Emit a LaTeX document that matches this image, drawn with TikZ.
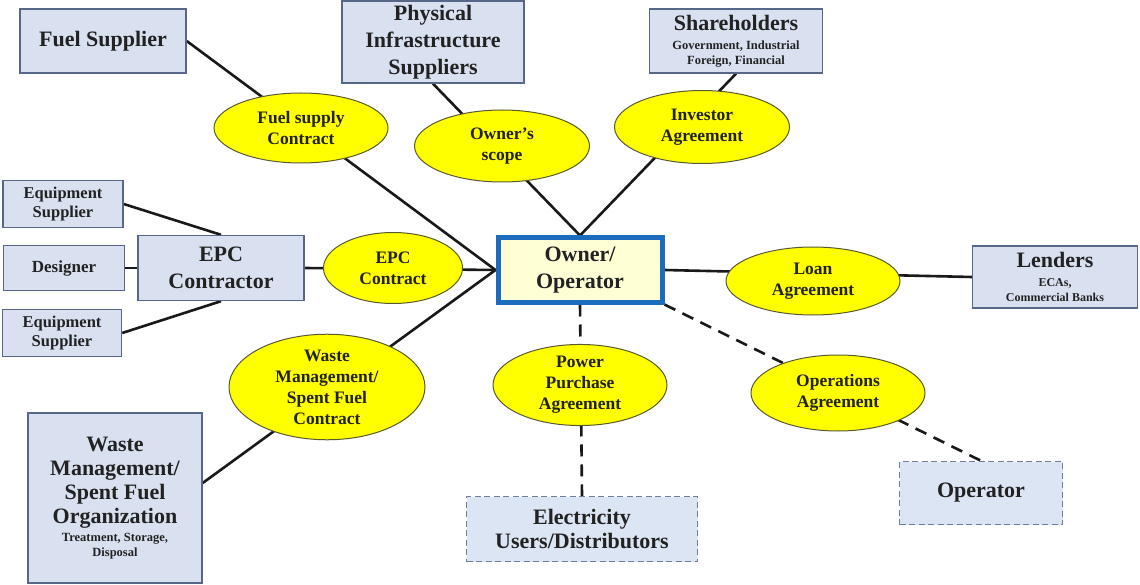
\documentclass[tikz,border=0pt]{standalone}
\usepackage{fontspec}
\setmainfont{Liberation Serif}
\usetikzlibrary{shapes.geometric,backgrounds}
\newcommand\myfs[2]{\fontsize{#1}{#2}\selectfont}
\definecolor{boxfill}{HTML}{D9E1F1}
\definecolor{boxline}{HTML}{56678A}
\definecolor{ellfill}{HTML}{FFFF00}
\definecolor{ellline}{HTML}{5A5A30}
\definecolor{ownfill}{HTML}{FFFFD6}
\definecolor{ownline}{HTML}{1B6CBC}
\definecolor{dashfill}{HTML}{DCE5F3}
\definecolor{txt}{HTML}{222222}
\tikzset{
  pbox/.style={draw=boxline, line width=1.4pt, fill=boxfill, align=center, inner sep=0pt, text=txt, font=\bfseries\myfs{22}{27}},
  sbox/.style={pbox, font=\bfseries\myfs{16.5}{19}},
  dbox/.style={pbox, draw=boxline!85, dash pattern=on 6pt off 3.5pt, fill=dashfill},
  agr/.style={ellipse, draw=ellline, line width=1pt, fill=ellfill, align=center, inner sep=0pt, text=txt, font=\bfseries\myfs{17.5}{21}},
  ownbox/.style={draw=ownline, line width=5pt, fill=ownfill, align=center, inner sep=0pt, text=txt, font=\bfseries\myfs{22}{27}},
  link/.style={draw=black!90, line width=2.6pt},
  dlink/.style={link, dash pattern=on 12pt off 8pt}
}
\begin{document}
\begin{tikzpicture}[x=1pt,y=-1pt]
\useasboundingbox (0,0) rectangle (1140,585);
% boxes
\node[pbox, minimum width=166, minimum height=64] (fs) at (103,41) {Fuel Supplier};
\node[pbox, minimum width=182, minimum height=82] (phys) at (433,42) {Physical\\Infrastructure\\Suppliers};
\node[pbox, minimum width=173, minimum height=64] (sh) at (736,41) {Shareholders\\[-8pt]{\myfs{12.5}{15}Government, Industrial}\\[-12pt]{\myfs{12.5}{15}Foreign, Financial}};
\node[sbox, minimum width=120, minimum height=47] (eqa) at (63,204) {Equipment\\Supplier};
\node[sbox, minimum width=121, minimum height=45, font=\bfseries\myfs{17}{20}] (des) at (64,268) {Designer};
\node[sbox, minimum width=119, minimum height=47] (eqb) at (62,333) {Equipment\\Supplier};
\node[pbox, minimum width=166, minimum height=65] (epc) at (221,268) {EPC\\Contractor};
\node[ownbox, minimum width=164, minimum height=64] (own) at (580,270) {Owner/\\Operator};
\node[pbox, minimum width=165, minimum height=62] (lend) at (1055,277) {Lenders\\[-8pt]{\myfs{12}{15}ECAs,}\\[-12pt]{\myfs{12}{15}Commercial Banks}};
\node[pbox, minimum width=174, minimum height=170, font=\bfseries\myfs{22}{24}] (wmo) at (115,498) {Waste\\Management/\\Spent Fuel\\Organization\\[-6pt]{\myfs{12.5}{15}Treatment, Storage,}\\[-9pt]{\myfs{12.5}{15}Disposal}};
\node[dbox, minimum width=231, minimum height=65, font=\bfseries\myfs{22}{23.5}] (elec) at (582,529) {Electricity\\Users/Distributors};
\node[dbox, minimum width=163, minimum height=63] (oper) at (981,493) {Operator};
% agreements
\node[agr, minimum width=174, minimum height=70] (fsc) at (301,128) {Fuel supply\\Contract};
\node[agr, minimum width=175, minimum height=72] (osc) at (502,146) {Owner's\\scope};
\node[agr, minimum width=175, minimum height=73] (inv) at (702,127) {Investor\\Agreement};
\node[agr, minimum width=139, minimum height=71] (epcc) at (393,268) {EPC\\Contract};
\node[agr, minimum width=174, minimum height=68] (loan) at (813,281) {Loan\\Agreement};
\node[agr, minimum width=174, minimum height=78] (ppa) at (580,385) {Power\\Purchase\\Agreement};
\node[agr, minimum width=174, minimum height=76] (opa) at (838,393) {Operations\\Agreement};
\node[agr, minimum width=196, minimum height=100] (wmc) at (327,387) {Waste\\Management/\\Spent Fuel\\Contract};
% connectors
\begin{pgfonlayer}{background}
\draw[link] (fs.east) -- (own.west);
\draw[link] (phys.south) -- (own.north);
\draw[link] (sh.south) -- (own.north);
\draw[link] (eqa.east) -- (epc.north);
\draw[link] (des.east) -- (epc.west);
\draw[link] (eqb.east) -- (epc.south);
\draw[link] (epc.east) -- (own.west);
\draw[link] ([yshift=15pt]wmo.east) -- (own.west);
\draw[link] (own.east) -- (lend.west);
\draw[dlink] (own.south) -- (elec.north);
\draw[dlink] (own.south east) -- (oper.north);
\end{pgfonlayer}
\end{tikzpicture}
\end{document}
